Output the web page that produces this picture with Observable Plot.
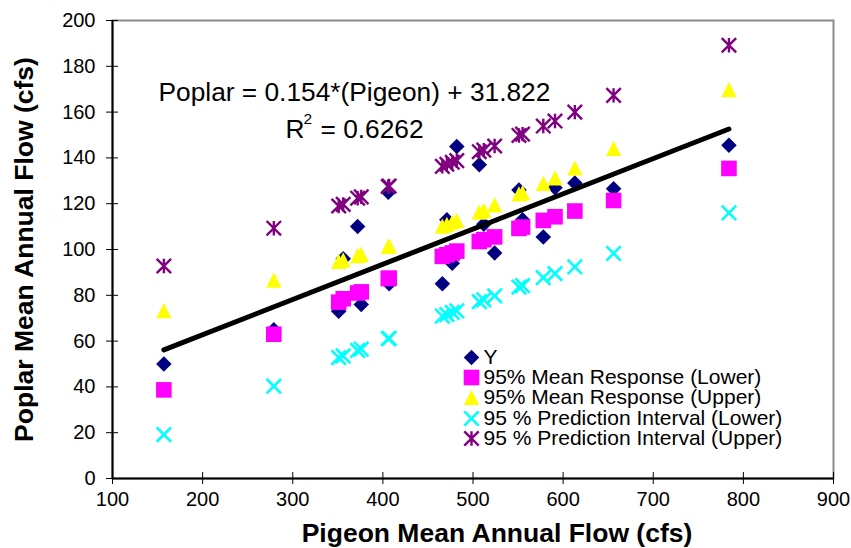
<!DOCTYPE html>
<html><head><meta charset="utf-8">
<script src="https://cdn.jsdelivr.net/npm/d3@7"></script>
<script src="https://cdn.jsdelivr.net/npm/@observablehq/plot@0.6"></script>
<style>body{margin:0;background:#fff;}</style>
</head><body><div id="chart"></div>
<script>
const pigeon    = [157, 279, 351, 356, 372, 376, 406, 407, 466, 471, 477, 482, 507, 512, 524, 551, 555, 578, 591, 613, 656, 784];
const observed  = [50, 65, 73, 96, 110, 76, 125, 85, 85, 113, 94, 145, 137, 111, 98.5, 126, 113, 105.5, 127, 129, 126.5, 145.5];
const meanLower = [38.7, 63, 77, 78.5, 81, 81.5, 87.3, 87.5, 97, 97.7, 98.5, 99.3, 103.5, 104.3, 105.5, 109.2, 109.8, 112.7, 114.3, 116.8, 121.4, 135.4];
const meanUpper = [73.3, 86.6, 94.8, 95.5, 97.3, 97.9, 101.4, 101.5, 110.2, 111, 112, 112.7, 116.3, 117.1, 119.5, 124.3, 124.8, 128.9, 131.3, 135.6, 144.2, 169.8];
const predLower = [19.2, 40.3, 52.8, 53.5, 55.9, 56.5, 61.1, 61.2, 70.9, 71.6, 72.5, 73.2, 77.2, 78, 79.8, 83.6, 84.2, 87.7, 89.5, 92.4, 98.3, 116];
const predUpper = [92.8, 109.3, 119, 119.7, 122.4, 123, 127.5, 127.7, 136.3, 137.2, 138.1, 138.8, 142.7, 143.4, 145.2, 149.8, 150.4, 153.9, 156.1, 160, 167.3, 189.2];
const trendPigeon = [157, 784];
const trendPoplar = [56.2, 152.6];
const xTicks = [100, 200, 300, 400, 500, 600, 700, 800, 900];
const yTicks = [0, 20, 40, 60, 80, 100, 120, 140, 160, 180, 200];
const seriesNames = ["Y", "95% Mean Response (Lower)", "95% Mean Response (Upper)", "95 % Prediction Interval (Lower)", "95 % Prediction Interval (Upper)"];
const xTitle = "Pigeon Mean Annual Flow (cfs)";
const yTitle = "Poplar Mean Annual Flow (cfs)";
const equationText = "Poplar = 0.154*(Pigeon) + 31.822";
const r2Label = "R";
const r2Sup = "2";
const r2Value = "= 0.6262";

const timesSym = {draw(ctx, size){const r = Math.sqrt(size/Math.PI); ctx.moveTo(-r,-r); ctx.lineTo(r,r); ctx.moveTo(-r,r); ctx.lineTo(r,-r);}};
const starSym = {draw(ctx, size){const r = Math.sqrt(size/Math.PI); ctx.moveTo(-r,-r); ctx.lineTo(r,r); ctx.moveTo(-r,r); ctx.lineTo(r,-r); ctx.moveTo(0,-r); ctx.lineTo(0,r);}};
const triSym = {draw(ctx, size){const r = Math.sqrt(size/Math.PI); ctx.moveTo(0,-r); ctx.lineTo(r,r); ctx.lineTo(-r,r); ctx.closePath();}};

const styles = [
  {symbol: "diamond2", fill: "#000080", stroke: "none", r: 7},
  {symbol: "square", fill: "#ff00ff", stroke: "none", r: 8.8},
  {symbol: triSym, fill: "#ffff00", stroke: "none", r: 7.6},
  {symbol: timesSym, fill: "none", stroke: "#00ffff", strokeWidth: 2.6, r: 7.2},
  {symbol: starSym, fill: "none", stroke: "#800080", strokeWidth: 2.4, r: 7.2}
];
const values = [observed, meanLower, meanUpper, predLower, predUpper];
const idx = d3.range(pigeon.length);

const font = "'Liberation Sans', Arial, sans-serif";
const marks = [
  Plot.frame({stroke: "#8c8c8c", strokeWidth: 2}),
  Plot.ruleX([100], {stroke: "#000", strokeWidth: 2}),
  Plot.ruleY([0], {stroke: "#000", strokeWidth: 2}),
  Plot.axisY({ticks: yTicks, tickSize: 12, dx: 6, text: null, label: null, stroke: "#000"}),
  Plot.axisX({ticks: xTicks, tickSize: 12, dy: -6, text: null, label: null, stroke: "#000"}),
  Plot.axisY({ticks: yTicks, tickSize: 0, tickPadding: 17, label: null, fontSize: 20, fill: "#000"}),
  Plot.axisX({ticks: xTicks, tickSize: 0, tickPadding: 13, label: null, fontSize: 20, fill: "#000"}),
  Plot.text([xTitle], {frameAnchor: "bottom", dx: 24, dy: 55, lineAnchor: "middle", textAnchor: "middle", fontSize: 26.5, fontWeight: "bold", fill: "#000"}),
  Plot.text([yTitle], {frameAnchor: "left", rotate: -90, dx: -87.5, lineAnchor: "middle", textAnchor: "middle", fontSize: 26.5, fontWeight: "bold", fill: "#000"})
];
values.forEach((vals, k) => {
  const s = styles[k];
  marks.push(Plot.dot(idx, {x: i => pigeon[i], y: i => vals[i], ...s}));
});
marks.push(Plot.line(d3.range(trendPigeon.length), {x: i => trendPigeon[i], y: i => trendPoplar[i], stroke: "#000", strokeWidth: 5, strokeLinecap: "round"}));
const tx = {frameAnchor: "top-left", textAnchor: "start", lineAnchor: "middle", fill: "#000"};
marks.push(Plot.text([equationText], {...tx, dx: 46, dy: 71.6, fontSize: 26.3}));
marks.push(Plot.text([r2Label], {...tx, dx: 173, dy: 108.6, fontSize: 26.3}));
marks.push(Plot.text([r2Sup], {...tx, dx: 191, dy: 99, fontSize: 15.5}));
marks.push(Plot.text([r2Value], {...tx, dx: 208, dy: 108.6, fontSize: 26.3}));
const legendRows = [337, 357, 377, 398, 418];
seriesNames.forEach((name, k) => {
  const s = styles[k];
  marks.push(Plot.dot([0], {frameAnchor: "top-left", dx: 359, dy: legendRows[k], ...s}));
  marks.push(Plot.text([name], {...tx, dx: 371, dy: legendRows[k], fontSize: 21}));
});

const chart = Plot.plot({
  width: 851, height: 548,
  marginLeft: 112, marginRight: 18, marginTop: 20, marginBottom: 70,
  x: {domain: [100, 900]},
  y: {domain: [0, 200]},
  style: {fontFamily: font, background: "#fff", color: "#000"},
  marks
});
document.getElementById("chart").appendChild(chart);
</script>
</body></html>
